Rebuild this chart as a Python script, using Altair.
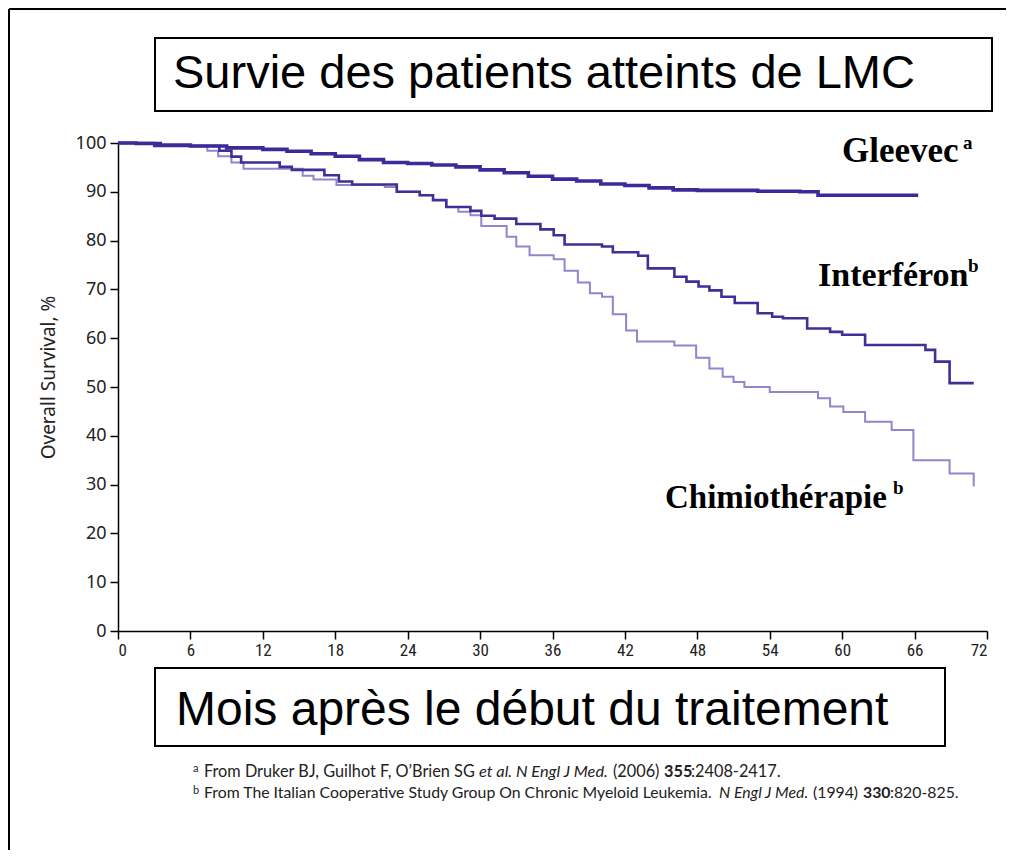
import altair as alt
import pandas as pd

# ---------------- data ----------------
gleevec_month = [0, 1.5, 3.5, 6, 9, 12, 14, 16, 18, 20, 22, 24, 26, 28, 30, 32, 34, 36,
                 38, 40, 42, 44, 46, 48, 50, 53, 56.5, 58, 66.3]
gleevec_surv = [100, 99.9, 99.6, 99.4, 99.0, 98.7, 98.3, 97.8, 97.3, 96.6, 96.0, 95.8, 95.5,
                95.1, 94.5, 93.9, 93.2, 92.6, 92.2, 91.6, 91.3, 90.8, 90.4, 90.3, 90.3, 90.1,
                90.0, 89.3, 89.3]

interferon_month = [0, 3, 8.4, 9.4, 10.2, 13.4, 14.4, 17.1, 18.3, 19.4, 23.1, 25.0, 26.1,
                    27.2, 29.2, 30.1, 31.2, 33.0, 35.0, 36.1, 37.0, 40.1, 41.0, 43.1, 43.9,
                    46.1, 47.1, 48.1, 49.0, 50.0, 51.1, 53.0, 54.2, 55.1, 57.1, 59.0, 60.0,
                    61.9, 66.9, 67.7, 68.9, 70.9]
interferon_surv = [100, 99.4, 98.4, 97.2, 96.0, 95.1, 94.5, 93.4, 92.1, 91.5, 90.0, 89.3,
                   88.3, 86.9, 86.1, 85.1, 84.5, 83.4, 82.3, 81.1, 79.2, 78.8, 77.6, 76.9,
                   74.3, 72.6, 71.6, 70.6, 69.8, 68.5, 67.2, 65.1, 64.4, 64.1, 62.0, 61.3,
                   60.7, 58.6, 57.6, 55.2, 50.8, 50.8]

chemo_month = [0, 3, 7.4, 8.3, 9.4, 10.4, 15.3, 16.2, 18.1, 22.1, 23.1, 25.0, 26.1, 27.2,
               28.2, 29.2, 30.1, 32.2, 33.0, 34.1, 36.1, 37.0, 38.1, 39.1, 40.1, 41.0, 42.1,
               43.0, 46.1, 47.9, 49.0, 50.1, 51.0, 51.9, 54.0, 58.0, 59.0, 60.1, 61.9, 64.1,
               65.9, 68.9, 70.9]
chemo_surv = [100, 99.4, 98.4, 97.3, 96.0, 94.7, 93.3, 92.5, 91.4, 91.0, 90.0, 89.3, 88.3,
              86.9, 85.9, 85.2, 83.0, 80.8, 78.8, 77.0, 76.2, 73.8, 71.4, 69.2, 68.5, 64.9,
              61.6, 59.3, 58.5, 56.0, 53.8, 52.1, 51.0, 50.0, 49.0, 47.7, 46.0, 44.9, 42.9,
              41.2, 35.0, 32.3, 29.6]

x_ticks = list(range(0, 73, 6))
y_ticks = list(range(0, 101, 10))

title_text = "Survie des patients atteints de LMC"
xlabel_text = "Mois après le début du traitement"
ylabel_text = "Overall Survival, %"

rows = []
for name, ms, ss in [("Gleevec", gleevec_month, gleevec_surv),
                     ("Interféron", interferon_month, interferon_surv),
                     ("Chimiothérapie", chemo_month, chemo_surv)]:
    for m, s in zip(ms, ss):
        rows.append({"series": name, "month": m, "survival": s})
df = pd.DataFrame(rows)
one = pd.DataFrame({"k": [0]})

# ---------------- chart ----------------
W, H = 869, 488

x_enc = alt.X("month:Q",
              scale=alt.Scale(domain=[0, 72], nice=False, zero=True),
              axis=alt.Axis(values=x_ticks, title=None, grid=False,
                            domainColor="black", domainWidth=1.5,
                            tickColor="black", tickWidth=1.5, tickSize=8,
                            labelFont="Liberation Sans Narrow, Roboto Condensed, Roboto",
                            labelFontSize=17, labelColor="#222", labelPadding=3))
y_enc = alt.Y("survival:Q",
              scale=alt.Scale(domain=[0, 100], nice=False),
              axis=alt.Axis(values=y_ticks, title=ylabel_text, grid=False,
                            domainColor="black", domainWidth=1.5,
                            tickColor="black", tickWidth=1.5, tickSize=8,
                            labelFont="Noto Sans", labelFontSize=18, labelColor="#222",
                            labelPadding=4,
                            titleFont="Noto Sans", titleFontSize=19, titleFontWeight="normal",
                            titleColor="#222", titleAngle=270, titleX=-70, titleY=234,
                            titleAlign="center", titleBaseline="middle"))

base = alt.Chart(df)
chemo = base.transform_filter(alt.datum.series == "Chimiothérapie").mark_line(
    interpolate="step-after", color="#8f86cc", strokeWidth=2).encode(x=x_enc, y=y_enc)
interf = base.transform_filter(alt.datum.series == "Interféron").mark_line(
    interpolate="step-after", color="#3f2f96", strokeWidth=2.6).encode(x=x_enc, y=y_enc)
gleev = base.transform_filter(alt.datum.series == "Gleevec").mark_line(
    interpolate="step-after", color="#3b2b98", strokeWidth=3.6).encode(x=x_enc, y=y_enc)


def txt(text, x, y, size, font, weight="normal", style="normal", color="black"):
    return alt.Chart(one).mark_text(
        text=text, font=font, fontSize=size, fontWeight=weight, fontStyle=style,
        color=color, align="left", baseline="alphabetic").encode(
        x=alt.value(x), y=alt.value(y))


def box(x1, x2, y1, y2):
    return alt.Chart(one).mark_rect(fillOpacity=0, stroke="black", strokeWidth=2).encode(
        x=alt.value(x1), x2=alt.value(x2), y=alt.value(y1), y2=alt.value(y2))


frame_left = alt.Chart(one).mark_rule(color="black", strokeWidth=2).encode(
    x=alt.value(-109), y=alt.value(-134), y2=alt.value(730))
frame_top = alt.Chart(one).mark_rule(color="black", strokeWidth=2).encode(
    x=alt.value(-109), x2=alt.value(900), y=alt.value(-134))

serif = "Liberation Serif"
sans = "Liberation Sans"
foot = "Lato"
fa = 16.3
fb = 15.8
fc = "#222"

layers = [
    frame_left, frame_top,
    box(37, 874, -105, -32),
    txt(title_text, 55, -55, 47, sans),
    box(37, 827, 525, 603),
    txt(xlabel_text, 58, 582, 48, sans),
    chemo, interf, gleev,
    txt("Gleevec", 724, 19, 35, serif, "bold"),
    txt("a", 845, 6, 19, serif, "bold"),
    txt("Interféron", 700, 143, 34, serif, "bold"),
    txt("b", 850, 129, 19, serif, "bold"),
    txt("Chimiothérapie", 547, 365, 33, serif, "bold"),
    txt("b", 775, 351, 19, serif, "bold"),
    # footnotes
    txt("a", 75, 629, 11, foot, color=fc),
    txt("From Druker BJ, Guilhot F, O’Brien SG", 86, 634, fa, foot, color=fc),
    txt("et al.", 361, 634, fa, foot, style="italic", color=fc),
    txt("N Engl J Med.", 398, 634, fa, foot, style="italic", color=fc),
    txt("(2006)", 495, 634, fa, foot, color=fc),
    txt("355", 546, 634, fa, foot, "bold", color=fc),
    txt(":2408-2417.", 573, 634, fa, foot, color=fc),
    txt("b", 75, 651, 11, foot, color=fc),
    txt("From The Italian Cooperative Study Group On Chronic Myeloid Leukemia.", 86, 655, fb,
        foot, color=fc),
    txt("N Engl J Med.", 601, 655, fb, foot, style="italic", color=fc),
    txt("(1994)", 695, 655, fb, foot, color=fc),
    txt("330", 745, 655, fb, foot, "bold", color=fc),
    txt(":820-825.", 772, 655, fb, foot, color=fc),
]

chart = alt.layer(*layers).properties(
    width=W, height=H,
    autosize=alt.AutoSizeParams(type="none"),
    padding={"left": 110, "top": 135, "right": 19, "bottom": 219},
    background="white",
).configure_view(stroke=None)

chart.save("out.html", embed_options={"renderer": "svg", "actions": False})
